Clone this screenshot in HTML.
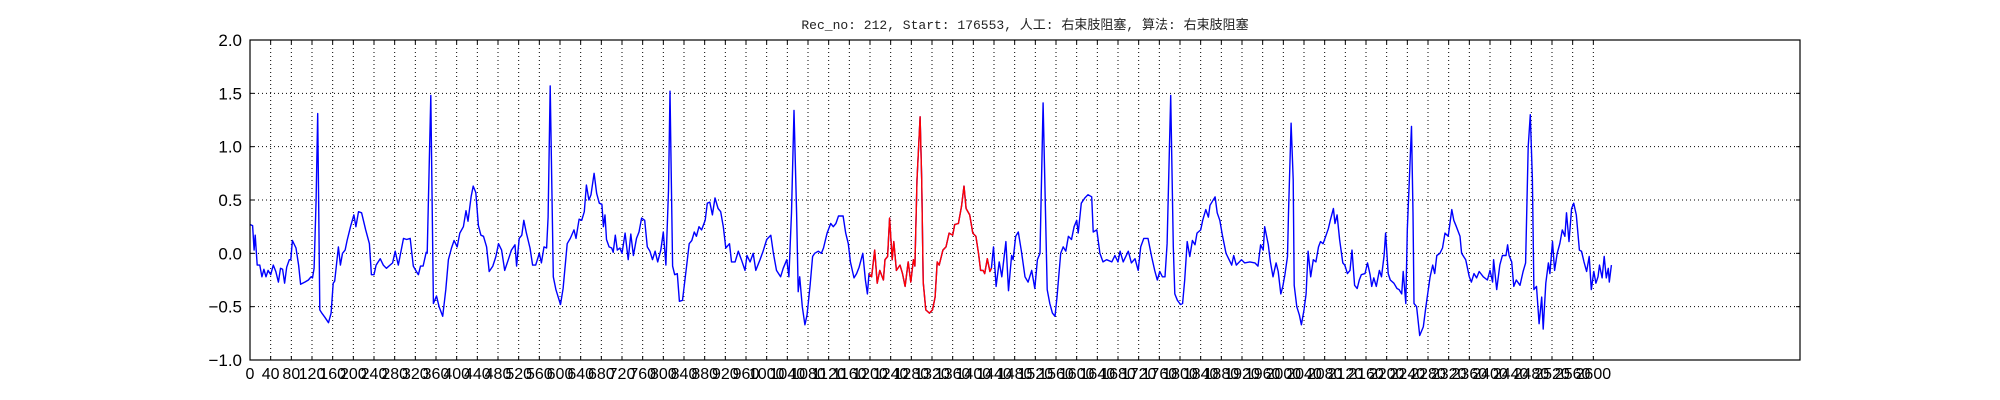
<!DOCTYPE html>
<html><head><meta charset="utf-8"><style>
html,body{margin:0;padding:0;background:#fff;}
svg{display:block;}
</style></head><body>
<svg id="chart" width="2000" height="400" xmlns="http://www.w3.org/2000/svg">
<rect x="0" y="0" width="2000" height="400" fill="#fff"/>
<text x="1025" y="29" text-anchor="middle" font-family="'Liberation Mono','Noto Sans CJK SC',monospace" font-size="13" fill="#222">Rec_no: 212, Start: 176553, 人工: 右束肢阻塞, 算法: 右束肢阻塞</text>
<g id="grid"></g>
<g id="series"></g>
<rect x="250" y="40" width="1550" height="320" fill="none" stroke="#000" stroke-width="1.2"/>
<g id="ticks"></g>
</svg>
<script>
const xTicks = [];
for (let t = 0; t <= 2600; t += 40) xTicks.push(t);
const yTicks = [-1.0, -0.5, 0.0, 0.5, 1.0, 1.5, 2.0];
const yTickLabels = ["\u22121.0", "\u22120.5", "0.0", "0.5", "1.0", "1.5", "2.0"];
const redStart = 1198;
const redEnd = 1435;
const sampleIdx = [0,5,8,10,14,19,23,27,31,35,40,45,50,55,59,63,67,71,76,79,82,89,94,98,106,113,118,121,124,128,131,135,139,145,152,157,161,164,171,175,179,184,188,195,201,205,210,216,224,231,235,240,244,252,258,264,271,276,281,287,297,303,310,316,322,326,330,335,341,343,350,355,361,366,373,379,384,390,395,401,406,413,418,422,428,432,437,442,447,452,458,463,470,476,481,487,493,500,506,513,516,521,526,530,535,542,547,553,560,564,569,574,577,581,587,592,597,601,606,614,620,627,631,637,642,647,651,656,660,666,671,676,681,684,687,690,695,700,703,707,711,716,720,726,732,737,742,748,753,758,764,769,774,779,784,789,795,800,805,810,813,818,822,827,831,837,845,850,855,860,864,869,874,881,885,890,895,900,906,911,916,921,928,932,939,945,951,958,962,968,974,979,987,993,1000,1008,1013,1019,1027,1032,1039,1043,1048,1053,1058,1061,1064,1069,1074,1078,1084,1089,1093,1100,1106,1110,1117,1124,1129,1134,1139,1148,1153,1158,1162,1169,1174,1179,1186,1191,1195,1198,1203,1209,1214,1219,1226,1229,1234,1238,1243,1246,1251,1258,1263,1268,1274,1279,1284,1287,1291,1297,1300,1303,1308,1315,1321,1326,1330,1334,1341,1347,1353,1360,1364,1371,1377,1382,1386,1393,1399,1405,1410,1414,1419,1422,1427,1432,1435,1439,1444,1450,1455,1463,1468,1474,1477,1482,1487,1493,1500,1506,1513,1519,1524,1529,1535,1543,1548,1553,1558,1562,1569,1574,1579,1584,1590,1595,1600,1603,1609,1616,1622,1629,1632,1639,1645,1651,1658,1668,1674,1680,1684,1690,1700,1706,1713,1719,1724,1730,1738,1745,1751,1756,1761,1766,1771,1775,1782,1787,1790,1795,1801,1805,1809,1814,1819,1824,1829,1833,1840,1844,1850,1855,1858,1868,1872,1877,1882,1889,1895,1900,1904,1909,1919,1925,1935,1945,1951,1956,1961,1964,1971,1975,1980,1986,1990,1995,1999,2003,2008,2010,2015,2019,2021,2026,2031,2035,2040,2044,2048,2053,2058,2063,2068,2072,2077,2082,2087,2091,2097,2100,2104,2109,2115,2119,2124,2129,2133,2138,2143,2147,2151,2158,2163,2168,2171,2175,2180,2186,2190,2195,2198,2203,2207,2214,2220,2224,2229,2232,2237,2240,2248,2251,2253,2258,2264,2271,2276,2284,2289,2293,2297,2303,2308,2313,2319,2326,2330,2335,2342,2345,2353,2360,2364,2369,2374,2379,2387,2395,2400,2405,2407,2413,2419,2424,2431,2434,2437,2442,2446,2451,2458,2464,2469,2474,2478,2482,2485,2490,2495,2500,2503,2508,2513,2516,2521,2525,2530,2535,2540,2545,2548,2553,2558,2562,2567,2573,2577,2582,2587,2592,2596,2601,2605,2609,2612,2617,2621,2625,2629,2631,2635];
const sampleVal = [0.27,0.26,0.03,0.17,-0.11,-0.11,-0.22,-0.15,-0.22,-0.16,-0.2,-0.11,-0.17,-0.27,-0.14,-0.15,-0.28,-0.13,-0.06,-0.06,0.12,0.05,-0.11,-0.29,-0.27,-0.25,-0.22,-0.23,-0.14,0.5,1.31,-0.53,-0.56,-0.6,-0.65,-0.56,-0.28,-0.26,0.06,-0.11,0,0.03,0.12,0.26,0.36,0.25,0.39,0.38,0.22,0.09,-0.2,-0.2,-0.11,-0.05,-0.11,-0.14,-0.11,-0.09,0.02,-0.11,0.14,0.13,0.14,-0.12,-0.17,-0.2,-0.12,-0.12,0.01,0,1.48,-0.47,-0.4,-0.5,-0.59,-0.34,-0.06,0.05,0.12,0.06,0.19,0.25,0.4,0.3,0.53,0.63,0.57,0.26,0.17,0.16,0.06,-0.17,-0.12,-0.03,0.09,0.03,-0.16,-0.06,0.03,0.08,-0.12,0.14,0.17,0.31,0.19,0.05,-0.11,-0.11,0,-0.09,0.06,0.05,0.34,1.57,-0.22,-0.34,-0.42,-0.48,-0.33,0.09,0.14,0.22,0.14,0.32,0.31,0.39,0.64,0.5,0.55,0.75,0.56,0.47,0.46,0.25,0.36,0.13,0.06,0.05,0.01,0.17,0.03,0.05,0,0.19,-0.06,0.18,-0.02,0.14,0.2,0.33,0.31,0.06,0.02,-0.06,0.02,-0.08,0.03,0.2,-0.11,0.59,1.52,-0.12,-0.2,-0.19,-0.45,-0.44,-0.12,0.09,0.12,0.2,0.16,0.25,0.22,0.31,0.47,0.48,0.36,0.52,0.42,0.39,0.25,0.05,0.09,-0.08,-0.08,0.02,-0.06,-0.16,-0.02,-0.08,0,-0.16,-0.06,0.02,0.13,0.17,0,-0.16,-0.22,-0.14,-0.06,-0.22,0.38,1.34,0.38,-0.36,-0.22,-0.5,-0.67,-0.58,-0.3,-0.03,0,0.02,0,0.05,0.19,0.28,0.25,0.28,0.35,0.35,0.19,0.09,-0.08,-0.23,-0.19,-0.13,0,-0.25,-0.38,-0.19,-0.22,0.03,-0.28,-0.16,-0.25,-0.06,-0.03,0.33,-0.06,0.11,-0.16,-0.11,-0.19,-0.31,-0.08,-0.27,-0.06,-0.12,0.69,1.28,0.69,-0.27,-0.53,-0.56,-0.53,-0.41,-0.08,-0.11,0.03,0.06,0.19,0.17,0.27,0.28,0.44,0.63,0.42,0.36,0.19,0.16,0,-0.16,-0.16,-0.19,-0.05,-0.17,-0.14,0.06,-0.31,-0.08,-0.22,0.11,-0.35,-0.02,-0.06,0.16,0.2,0.02,-0.22,-0.27,-0.16,-0.33,-0.06,0,1.41,-0.34,-0.47,-0.56,-0.59,-0.41,0,0.06,0.02,0.16,0.13,0.25,0.31,0.19,0.47,0.52,0.55,0.53,0.2,0.22,0,-0.08,-0.06,-0.08,-0.02,-0.08,0.02,-0.08,0.02,-0.09,-0.05,-0.16,0.06,0.14,0.14,-0.03,-0.16,-0.25,-0.17,-0.22,-0.22,0.09,1.48,0.06,-0.38,-0.44,-0.48,-0.47,-0.25,0.11,-0.03,0.12,0.08,0.19,0.22,0.31,0.41,0.34,0.45,0.53,0.38,0.31,0.17,0,-0.06,-0.11,-0.02,-0.11,-0.06,-0.09,-0.08,-0.09,-0.12,0.08,0.03,0.25,0.08,-0.08,-0.22,-0.09,-0.17,-0.38,-0.31,-0.2,-0.03,0.38,1.22,0.69,-0.3,-0.5,-0.58,-0.67,-0.53,-0.38,0.02,-0.22,-0.06,-0.08,0.06,0.11,0.09,0.16,0.23,0.31,0.42,0.28,0.36,0.13,-0.09,-0.11,-0.19,-0.16,0.03,-0.3,-0.33,-0.25,-0.2,-0.19,-0.09,-0.2,-0.31,-0.23,-0.31,-0.16,-0.22,-0.02,0.19,-0.19,-0.25,-0.28,-0.33,-0.34,-0.38,-0.17,-0.47,0.22,1.19,0.38,-0.47,-0.5,-0.77,-0.69,-0.5,-0.22,-0.11,-0.19,-0.02,0,0.05,0.19,0.16,0.41,0.31,0.25,0.16,0,-0.06,-0.22,-0.27,-0.19,-0.23,-0.17,-0.22,-0.25,-0.16,-0.27,-0.06,-0.34,-0.11,-0.02,-0.02,0.08,-0.02,-0.08,-0.31,-0.25,-0.3,-0.17,-0.09,1.0,1.3,0.69,-0.34,-0.31,-0.66,-0.41,-0.71,-0.28,-0.09,-0.19,0.11,-0.16,0,0.09,0.22,0.16,0.38,0.11,0.42,0.47,0.36,0.03,0.02,-0.08,-0.17,-0.03,-0.34,-0.17,-0.28,-0.22,-0.11,-0.23,-0.03,-0.23,-0.14,-0.27,-0.11];

const NS = "http://www.w3.org/2000/svg";
const L = 250, R = 1800, T = 40, B = 360;
const xMin = 0, xMax = 3000, yMin = -1, yMax = 2;
function xs(v){ return L + (v - xMin) / (xMax - xMin) * (R - L); }
function ys(v){ return B - (v - yMin) / (yMax - yMin) * (B - T); }
function mk(tag, attrs, parent){
  const e = document.createElementNS(NS, tag);
  for (const k in attrs) e.setAttribute(k, attrs[k]);
  parent.appendChild(e);
  return e;
}
const grid = document.getElementById('grid');
const ticks = document.getElementById('ticks');
const series = document.getElementById('series');
const font = "'Liberation Sans','DejaVu Sans',sans-serif";

xTicks.forEach(t => {
  const x = xs(t);
  const g = mk('line', {x1:x, x2:x, y1:T, y2:B, stroke:'#000', 'stroke-width':1, 'stroke-dasharray':'1,3'}, grid);
  
  
  const tk = mk('line', {x1:x, x2:x, y1:B, y2:B-4, stroke:'#000', 'stroke-width':1}, ticks);
  
  
  const tt = mk('line', {x1:x, x2:x, y1:T, y2:T+4, stroke:'#000', 'stroke-width':1}, ticks);
  
  
  const lb = mk('text', {x:x, y:B+19, 'text-anchor':'middle', 'font-family':font, 'font-size':16, fill:'#000'}, ticks);
  lb.textContent = String(t);
  
  
});
yTicks.forEach((t, i) => {
  const y = ys(t);
  if (t > yMin && t < yMax) {
    const g = mk('line', {x1:L, x2:R, y1:y, y2:y, stroke:'#000', 'stroke-width':1, 'stroke-dasharray':'1,3'}, grid);
    
    
  }
  const tk = mk('line', {x1:L, x2:L+4, y1:y, y2:y, stroke:'#000', 'stroke-width':1}, ticks);
  
  
  const tr = mk('line', {x1:R, x2:R-4, y1:y, y2:y, stroke:'#000', 'stroke-width':1}, ticks);
  
  
  const lb = mk('text', {x:L-8, y:y+6, 'text-anchor':'end', 'font-family':font, 'font-size':17, fill:'#000'}, ticks);
  lb.textContent = yTickLabels[i];
  
  
});

let bluePts = [], redPts = [];
for (let i = 0; i < sampleIdx.length; i++) {
  const p = xs(sampleIdx[i]).toFixed(1) + ',' + ys(sampleVal[i]).toFixed(1);
  bluePts.push(p);
  if (sampleIdx[i] >= redStart && sampleIdx[i] <= redEnd) redPts.push(p);
}
const blue = mk('polyline', {points:bluePts.join(' '), fill:'none', stroke:'#0000ff', 'stroke-width':1.4, 'stroke-linejoin':'round'}, series);


const red = mk('polyline', {points:redPts.join(' '), fill:'none', stroke:'#ff0000', 'stroke-width':1.4, 'stroke-linejoin':'round'}, series);


</script>
</body></html>
